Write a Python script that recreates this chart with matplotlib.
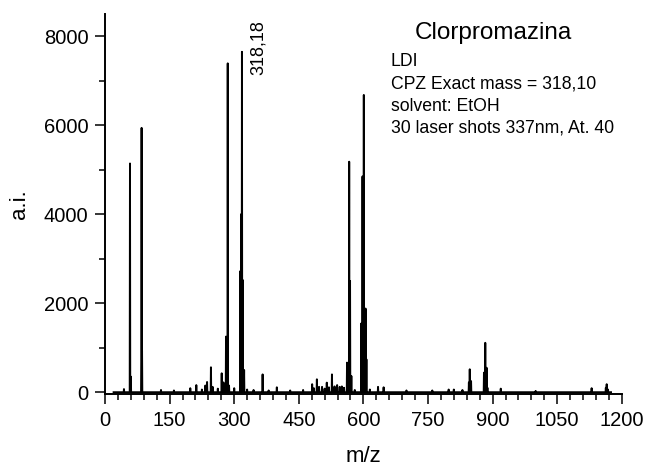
import numpy as np
import matplotlib
matplotlib.use("Agg")
import matplotlib.pyplot as plt
from matplotlib.ticker import MultipleLocator

# m/z e intensidade (a.i.) de cada pico
mz = [44, 58, 60, 85, 86, 130, 160, 198, 212, 225, 233, 237, 246, 250, 262,
      271, 275, 281, 285, 288, 300, 314, 316, 318, 320, 323, 330, 345, 366,
      380, 399, 430, 460, 481, 485, 492, 497, 504, 510, 515, 520, 527, 533,
      539, 545, 550, 555, 562, 567, 569, 572, 580, 595, 598, 601, 605, 607,
      615, 634, 647, 700, 760, 798, 810, 830, 845, 847, 850, 880, 883, 886,
      888, 919, 1000, 1130, 1163, 1165, 1168]
intensidade = [70, 5140, 350, 5940, 930, 50, 40, 90, 160, 60, 150, 230, 560,
               120, 80, 425, 220, 1250, 7390, 150, 90, 2720, 4000, 7650, 2520,
               500, 60, 50, 400, 40, 110, 40, 50, 180, 90, 290, 120, 120, 80,
               215, 110, 400, 130, 160, 120, 130, 100, 665, 5180, 2500, 365,
               50, 1545, 4850, 6680, 1880, 740, 60, 120, 110, 40, 40, 60, 60,
               50, 220, 515, 250, 440, 1110, 550, 100, 80, 30, 90, 100, 180, 60]

mz_inicio, mz_fim = 20, 1175

titulo = "Clorpromazina"
info = ["LDI", "CPZ Exact mass = 318,10", "solvent: EtOH",
        "30 laser shots 337nm, At. 40"]
pico_rotulo = (318, 7650, "318,18")

# ---------------- MONTANDO O ESPECTRO ----------------

x = [mz_inicio]
y = [0]
for m, i in zip(mz, intensidade):
    x += [m - 0.6, m, m + 0.6]
    y += [0, i, 0]
x.append(mz_fim)
y.append(0)

plt.rcParams['font.family'] = ['Liberation Sans', 'DejaVu Sans']

fig = plt.figure(figsize=(6.45, 4.66), dpi=100)
ax = fig.add_axes([0.1628, 0.1545, 0.8012, 0.8155])

ax.plot(x, y, color="black", linewidth=1.4)

ax.set_xlim(0, 1200)
ax.set_ylim(-40, 8500)

ax.spines['top'].set_visible(False)
ax.spines['right'].set_visible(False)
ax.spines['left'].set_linewidth(1.4)
ax.spines['bottom'].set_linewidth(1.4)

ax.xaxis.set_major_locator(MultipleLocator(150))
ax.xaxis.set_minor_locator(MultipleLocator(30))
ax.yaxis.set_major_locator(MultipleLocator(2000))
ax.yaxis.set_minor_locator(MultipleLocator(1000))
ax.tick_params(which='major', direction='out', length=7, width=1.1,
               labelsize=14.5, pad=5)
ax.tick_params(which='minor', direction='out', length=4, width=1.1)

ax.set_xlabel("m/z", fontsize=16, labelpad=12)
ax.set_ylabel("a.i.", fontsize=16, labelpad=10)

# Rótulo do pico principal
ax.annotate(pico_rotulo[2], xy=(pico_rotulo[0], pico_rotulo[1]),
            xytext=(12, 3), textcoords="offset points", rotation=90,
            ha="center", va="center", fontsize=13)

# Título e informações
fig.text(493 / 645, 1 - 33 / 466, titulo, ha="center", va="center",
         fontsize=17.5)
for k, linha in enumerate(info):
    fig.text(391 / 645, 1 - (66 + 22.3 * k) / 466, linha, ha="left",
             va="baseline", fontsize=12.7)

fig.savefig("out.png", dpi=100)
